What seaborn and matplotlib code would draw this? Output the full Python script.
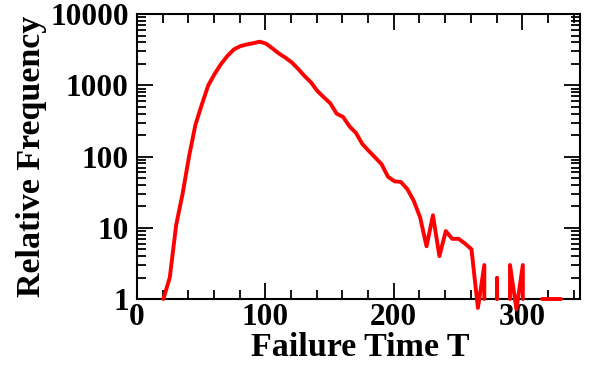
import matplotlib
matplotlib.use("Agg")
import matplotlib.pyplot as plt
import seaborn as sns
import numpy as np
import pandas as pd
from matplotlib.ticker import FixedLocator, LogLocator, NullFormatter, MultipleLocator

# Data (bins of width 5)
failure_time = [15.5, 20.5, 25.5, 30.5, 35.5, 40.5, 45.5, 50.5, 55.5, 60.5, 65.5, 70.5,
                75.5, 80.5, 85.5, 90.5, 95.5, 100.5, 105.5, 110.5, 115.5, 120.5,
                125.5, 130.5, 135.5, 140.5, 145.5, 150.5, 155.5, 160.5, 165.5,
                170.5, 175.5, 180.5, 185.5, 190.5, 195.5, 200.5, 205.5, 210.5,
                215.5, 220.5, 225.5, 230.5, 235.5, 240.5, 245.5, 250.5, 255.5,
                260.5, 265.5, 270.5, 275.5, 280.5, 285.5, 290.5, 295.5, 300.5,
                305.5, 310.5, 315.5, 320.5, 325.5, 330.5, 335.5]
frequency = [0, 1, 2, 11, 30, 100, 280, 540, 1000, 1450, 2000, 2600,
             3200, 3550, 3750, 3900, 4100, 3850, 3300, 2800, 2450, 2100,
             1700, 1350, 1100, 830, 680, 560, 400, 360, 265,
             215, 150, 120, 97, 78, 52, 45, 44, 35,
             24, 14, 5.5, 15, 4, 9, 7, 7, 6,
             5, 0.75, 3, 0, 2, 0, 3, 0.72, 3,
             0, 0, 1, 1, 1, 1, 0]

x_ticks = [0, 100, 200, 300]
y_ticks = [1, 10, 100, 1000, 10000]
y_tick_labels = ["1", "10", "100", "1000", "10000"]

# Build segments: zero counts drop vertically to the axis floor (1)
rows = []
seg = 0
prev_zero = True
n = len(frequency)
for i in range(n):
    t, f = failure_time[i], frequency[i]
    if f == 0:
        if not prev_zero:
            rows.append((seg, failure_time[i - 1], 1.0))
            seg += 1
        prev_zero = True
        continue
    if prev_zero:
        rows.append((seg, t, 1.0))
    rows.append((seg, t, f))
    prev_zero = False
if not prev_zero:
    rows.append((seg, failure_time[-1], 1.0))
df = pd.DataFrame(rows, columns=["seg", "T", "freq"])

sns.set_theme(style="ticks")
plt.rcParams["font.family"] = ["Liberation Serif", "DejaVu Serif"]
plt.rcParams["font.weight"] = "bold"

fig = plt.figure(figsize=(6.01, 3.71), dpi=100)
ax = fig.add_axes([0.228, 0.194, 0.737, 0.768])

sns.lineplot(data=df, x="T", y="freq", units="seg", estimator=None, sort=False,
             color="#ff0000", linewidth=2.8, ax=ax, legend=False)
for ln in ax.lines:
    ln.set_clip_on(False)
    ln.set_zorder(5)
    ln.set_solid_joinstyle("round")

ax.set_yscale("log")
ax.set_xlim(0, 345)
ax.set_ylim(1, 10000)

ax.xaxis.set_major_locator(FixedLocator(x_ticks))
ax.xaxis.set_minor_locator(MultipleLocator(20))
ax.yaxis.set_major_locator(FixedLocator(y_ticks))
ax.set_yticklabels(y_tick_labels)
ax.yaxis.set_minor_locator(LogLocator(base=10, subs=np.arange(2, 10), numticks=20))
ax.yaxis.set_minor_formatter(NullFormatter())

ax.tick_params(which="both", direction="in", top=True, right=True, width=1.3, colors="black")
ax.tick_params(which="major", length=11.5, labelsize=22.5)
ax.tick_params(axis="y", which="major", pad=6)
ax.tick_params(axis="x", which="major", pad=3)
ax.tick_params(which="minor", length=6.5)
for lab in ax.get_xticklabels() + ax.get_yticklabels():
    lab.set_fontweight("bold")

for sp in ax.spines.values():
    sp.set_linewidth(1.5)
    sp.set_color("black")

ax.set_xlabel("Failure Time T", fontsize=24.5, fontweight="bold", color="black")
ax.set_ylabel("Relative Frequency", fontsize=24.5, fontweight="bold", color="black")
ax.xaxis.set_label_coords(0.505, -0.115)
ax.yaxis.set_label_coords(-0.203, 0.5)

fig.savefig("out.png", dpi=100)
